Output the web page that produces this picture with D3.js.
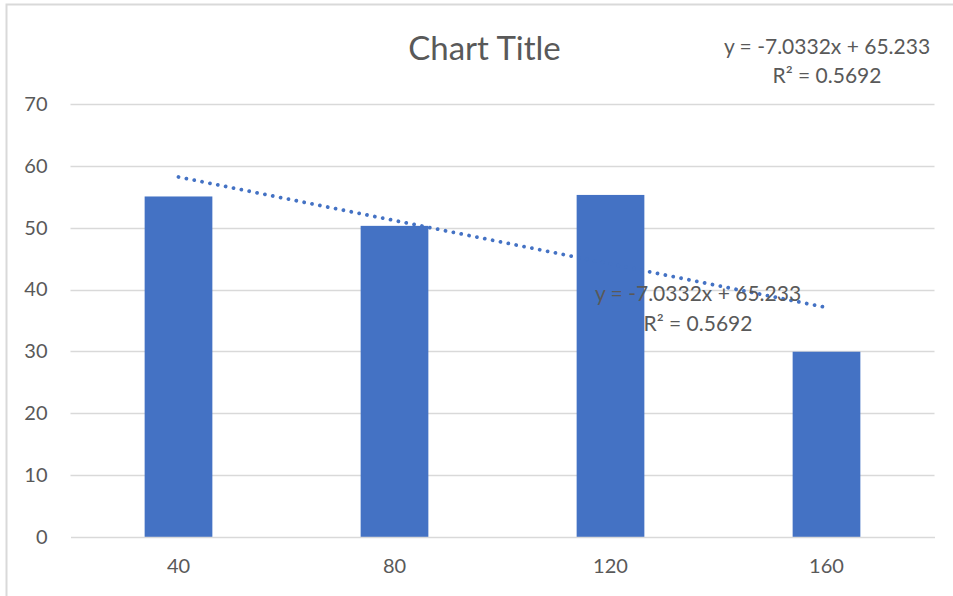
<!DOCTYPE html>
<html>
<head>
<meta charset="utf-8">
<script src="https://cdn.jsdelivr.net/npm/d3@7"></script>
<style>
  html, body { margin: 0; padding: 0; background: #ffffff; }
  svg { display: block; }
  text { font-family: Lato, "Open Sans", sans-serif; fill: #595959; }
</style>
</head>
<body>
<svg id="chart" width="953" height="596"></svg>
<script>
// Categories and bar values
const categories = ["40", "80", "120", "160"];
const values = [55.05, 50.3, 55.3, 29.95];
const yTicks = [0, 10, 20, 30, 40, 50, 60, 70];

// Linear trendline over category index (1..n), as displayed
const trendSlope = -7.0332;
const trendIntercept = 65.233;
const trendR2 = 0.5692;

const W = 953, H = 596;
const margin = { left: 70.5, right: 18.5, top: 104, bottom: 59 };
const tickFont = 20;

const svg = d3.select("#chart");

// Outer chart frame
svg.append("rect")
  .attr("x", 6.5).attr("y", 4.5)
  .attr("width", 960).attr("height", 600)
  .attr("fill", "none")
  .attr("stroke", "#d9d9d9")
  .attr("stroke-width", 2);

const x = d3.scaleBand()
  .domain(categories)
  .range([margin.left, W - margin.right])
  .paddingInner(0.6865)
  .paddingOuter(0.34325);

const y = d3.scaleLinear()
  .domain([0, 70])
  .range([H - margin.bottom, margin.top]);

// Horizontal gridlines
svg.append("g")
  .selectAll("line")
  .data(yTicks.filter(d => d !== 0))
  .join("line")
  .attr("x1", margin.left).attr("x2", W - margin.right)
  .attr("y1", d => Math.round(y(d)) + 0.5).attr("y2", d => Math.round(y(d)) + 0.5)
  .attr("stroke", "#d9d9d9").attr("stroke-width", 1.3);

// Y axis labels
const yAxis = d3.axisLeft(y).tickValues(yTicks).tickSize(0).tickPadding(23);
const gy = svg.append("g").attr("transform", `translate(${margin.left},0)`).call(yAxis);
gy.select(".domain").remove();
gy.selectAll("text").attr("font-size", tickFont).attr("fill", "#595959")
  .style("font-family", "Lato, 'Open Sans', sans-serif");

// Bars
svg.append("g")
  .selectAll("rect")
  .data(values)
  .join("rect")
  .attr("x", (d, i) => x(categories[i]))
  .attr("width", x.bandwidth())
  .attr("y", d => y(d))
  .attr("height", d => y(0) - y(d))
  .attr("fill", "#4472c4");

// Category axis
const xAxis = d3.axisBottom(x).tickSize(0).tickPadding(22);
const gx = svg.append("g").attr("transform", `translate(0,${y(0)})`).call(xAxis);
gx.select(".domain").attr("stroke", "#d9d9d9").attr("stroke-width", 1.5);
gx.selectAll("text").attr("font-size", tickFont).attr("fill", "#595959")
  .style("font-family", "Lato, 'Open Sans', sans-serif");

// Trendline (dotted), from first to last category centre
const xc = i => x(categories[i]) + x.bandwidth() / 2;
const trendPts = [0, categories.length - 1].map(i => [xc(i), y(trendSlope * (i + 1) + trendIntercept)]);
svg.append("path")
  .attr("d", d3.line()(trendPts))
  .attr("fill", "none")
  .attr("stroke", "#4472c4")
  .attr("stroke-width", 3.8)
  .attr("stroke-linecap", "round")
  .attr("stroke-dasharray", "0.01 8");

// Chart title
svg.append("text")
  .attr("x", 484.5).attr("y", 60)
  .attr("text-anchor", "middle")
  .attr("font-size", 33)
  .text("Chart Title");

// Trendline equation labels
const eq = `y = ${trendSlope}x + ${trendIntercept}`;
const r2 = `R² = ${trendR2}`;
function eqLabel(cx, y1, y2) {
  const g = svg.append("g");
  g.append("text").attr("x", cx).attr("y", y1).attr("text-anchor", "middle").attr("font-size", 21).text(eq);
  g.append("text").attr("x", cx).attr("y", y2).attr("text-anchor", "middle").attr("font-size", 21).text(r2);
}
eqLabel(827, 54, 83);
eqLabel(698, 301, 331);
</script>
</body>
</html>
